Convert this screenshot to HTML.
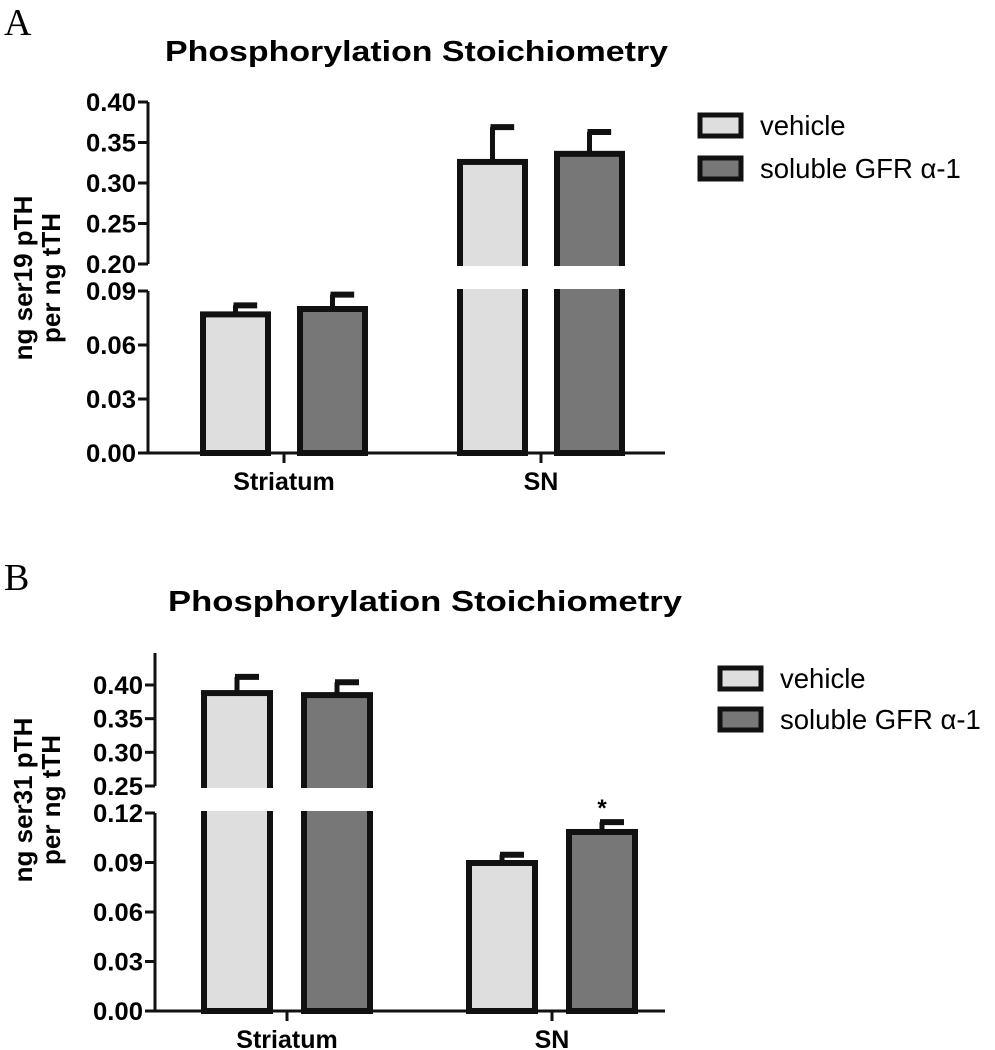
<!DOCTYPE html>
<html><head><meta charset="utf-8"><style>
html,body{margin:0;padding:0;background:#fff;}
svg{display:block;font-family:"Liberation Sans",Arial,sans-serif;}
</style></head><body>
<svg id="chart" width="995" height="1050" viewBox="0 0 995 1050" xmlns="http://www.w3.org/2000/svg">
<text x="4" y="35" font-family="Liberation Serif,serif" font-size="38">A</text>
<text x="165" y="61" font-weight="bold" font-size="29" textLength="503" lengthAdjust="spacingAndGlyphs">Phosphorylation Stoichiometry</text>
<text x="4" y="590" font-family="Liberation Serif,serif" font-size="38">B</text>
<text x="168" y="611" font-weight="bold" font-size="29" textLength="514" lengthAdjust="spacingAndGlyphs">Phosphorylation Stoichiometry</text>
<g id="pa"></g>
<g id="pb"></g>
</svg>
<script>
const categories = ["Striatum", "SN"];
const seriesNames = ["vehicle", "soluble GFR \u03b1-1"];
const aVehicle = [0.077, 0.326];
const aVehicleErr = [0.005, 0.043];
const aGfr = [0.080, 0.336];
const aGfrErr = [0.008, 0.027];
const aUpperTicks = ["0.20","0.25","0.30","0.35","0.40"];
const aLowerTicks = ["0.00","0.03","0.06","0.09"];
const bVehicle = [0.388, 0.0897];
const bVehicleErr = [0.024, 0.005];
const bGfr = [0.385, 0.1085];
const bGfrErr = [0.019, 0.006];
const bUpperTicks = ["0.25","0.30","0.35","0.40"];
const bLowerTicks = ["0.00","0.03","0.06","0.09","0.12"];
const bStars = [false, true];

const NS="http://www.w3.org/2000/svg";
function mk(parent,tag,attrs,text){const e=document.createElementNS(NS,tag);for(const k in attrs)e.setAttribute(k,attrs[k]);if(text!==undefined)e.textContent=text;parent.appendChild(e);return e;}

function panel(g,cfg){
  const lo=v=>cfg.lowY0-(v/cfg.lowMax)*(cfg.lowY0-cfg.lowYTop);
  const up=v=>cfg.upY0-((v-cfg.upMin)/(cfg.upMax-cfg.upMin))*(cfg.upY0-cfg.upYTop);
  const Y=v=>v<=cfg.lowMax?lo(v):up(v);
  const ax=cfg.axisX;
  let e=mk(g,"line",{x1:ax,y1:cfg.lowY0,x2:ax,y2:cfg.lowYTop,stroke:"#111","stroke-width":3});
  
  e=mk(g,"line",{x1:ax,y1:cfg.upY0,x2:ax,y2:cfg.axisTop,stroke:"#111","stroke-width":3});
  
  e=mk(g,"line",{x1:ax-1,y1:cfg.lowY0,x2:cfg.axisRight,y2:cfg.lowY0,stroke:"#111","stroke-width":3});
  
  const tick=(lab,y)=>{
    let t=mk(g,"line",{x1:ax-10,y1:y,x2:ax,y2:y,stroke:"#111","stroke-width":3});
    
    t=mk(g,"text",{x:ax-12,y:y+9,"text-anchor":"end","font-weight":"bold","font-size":25,textLength:50,lengthAdjust:"spacingAndGlyphs"},lab);
    
  };
  cfg.lowTicks.forEach(l=>tick(l,lo(parseFloat(l))));
  cfg.upTicks.forEach(l=>tick(l,up(parseFloat(l))));
  const series=[[cfg.veh,cfg.vehErr,"#dedede"],[cfg.gfr,cfg.gfrErr,"#777"]];
  categories.forEach((c,i)=>{
    const cx=cfg.catX[i];
    let t=mk(g,"line",{x1:cx,y1:cfg.lowY0,x2:cx,y2:cfg.lowY0+10,stroke:"#111","stroke-width":3});
    
    t=mk(g,"text",{x:cx,y:cfg.lowY0+37,"text-anchor":"middle","font-weight":"bold","font-size":25},c);
    
    series.forEach((s,j)=>{
      const v=s[0][i],er=s[1][i];
      const x0=cx+cfg.offs[j],w=cfg.barW;
      const top=Y(v),et=Y(v+er);
      const xm=x0+w/2;
      let l=mk(g,"line",{x1:xm,y1:top,x2:xm,y2:et,stroke:"#111","stroke-width":5});
      
      l=mk(g,"line",{x1:xm-2,y1:et,x2:xm+w/3,y2:et,stroke:"#111","stroke-width":6});
      
      const r=mk(g,"rect",{x:x0,y:top,width:w,height:cfg.lowY0-top,fill:s[2],stroke:"#111","stroke-width":6});
      
      
      if(v>cfg.lowMax){
        const gap=mk(g,"rect",{x:x0-5,y:cfg.upY0+2,width:w+10,height:cfg.lowYTop-cfg.upY0-4,fill:"#fff"});
        
      }
      if(cfg.stars&&cfg.stars[i]&&j===1){
        const st=mk(g,"text",{x:xm,y:et-6,"text-anchor":"middle","font-weight":"bold","font-size":24},"*");
        
      }
    });
  });
  const yt=mk(g,"text",{transform:`translate(${cfg.titleX},${cfg.titleY}) rotate(-90)`,"text-anchor":"middle","font-weight":"bold","font-size":26});
  
  mk(yt,"tspan",{x:0,y:0},cfg.title1);
  mk(yt,"tspan",{x:0,y:28},cfg.title2);
  seriesNames.forEach((n,j)=>{
    const ly=cfg.legY[j];
    const r=mk(g,"rect",{x:cfg.legX,y:ly,width:41,height:21,fill:j?"#777":"#dedede",stroke:"#111","stroke-width":5});
    
    const t=mk(g,"text",{x:cfg.legX+60,y:ly+20,"font-size":27.5},n);
    
  });
}
panel(document.getElementById("pa"),{axisX:148,axisTop:102,axisRight:665,lowY0:453,lowYTop:291,lowMax:0.09,upY0:264,upYTop:102,upMin:0.20,upMax:0.40,
  lowTicks:aLowerTicks,upTicks:aUpperTicks,veh:aVehicle,vehErr:aVehicleErr,gfr:aGfr,gfrErr:aGfrErr,
  catX:[284,541],offs:[-81,16],barW:65,titleX:32,titleY:278,title1:"ng ser19 pTH",title2:"per ng tTH",legX:700,legY:[115,158]});
panel(document.getElementById("pb"),{axisX:155,axisTop:653,axisRight:665,lowY0:1011,lowYTop:813,lowMax:0.12,upY0:786,upYTop:685,upMin:0.25,upMax:0.40,
  lowTicks:bLowerTicks,upTicks:bUpperTicks,veh:bVehicle,vehErr:bVehicleErr,gfr:bGfr,gfrErr:bGfrErr,stars:bStars,
  catX:[287,552],offs:[-83,17],barW:66,titleX:32,titleY:800,title1:"ng ser31 pTH",title2:"per ng tTH",legX:720,legY:[668,709]});
</script>
</body></html>
